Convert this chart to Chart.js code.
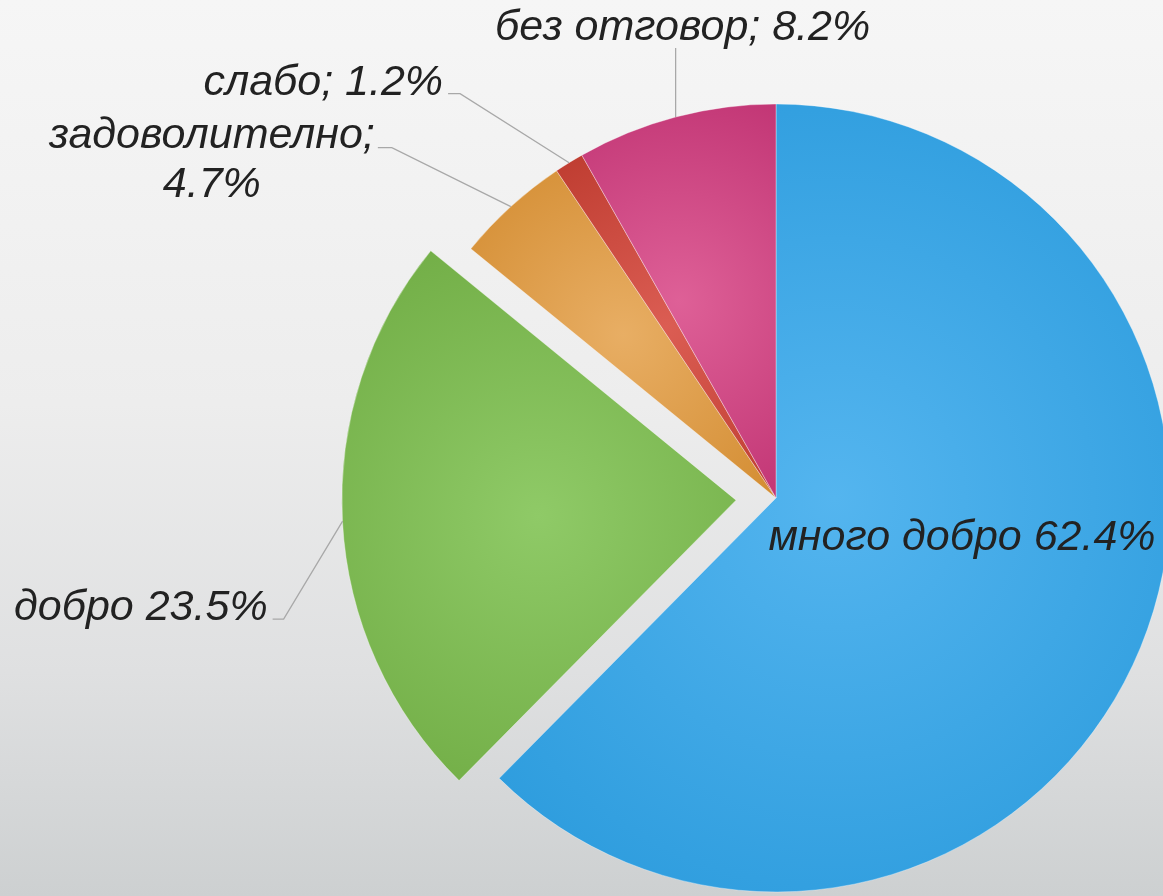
<!DOCTYPE html>
<html>
<head>
<meta charset="utf-8">
<script src="https://cdn.jsdelivr.net/npm/chart.js@4.4.1/dist/chart.umd.min.js"></script>
<style>
  html, body { margin: 0; padding: 0; }
  body {
    width: 1163px; height: 896px; overflow: hidden;
    background: linear-gradient(to bottom, #f6f6f6 0%, #ededed 45%, #dfe0e1 75%, #cdd0d1 100%);
  }
  #wrap { position: relative; width: 1163px; height: 896px; }
</style>
</head>
<body>
<div id="wrap"><canvas id="pie" width="1163" height="896"></canvas></div>
<script>
// data
const categories = ['много добро', 'добро', 'задоволително', 'слабо', 'без отговор'];
const percents = [62.4, 23.5, 4.7, 1.2, 8.2];
const separators = [' ', ' ', ';\n', '; ', '; '];

// slice colours: light centre / dark edge
const lightColors = ['#54b5ef', '#8fca67', '#e8ae64', '#db5d53', '#de6097'];
const darkColors = ['#2899db', '#6fab43', '#d38c31', '#be3c30', '#c23675'];
// pulled-out distance in px (chart.js moves an arc by offset / 4)
const explode = [0, 40, 0, 0, 0];

const RADIUS = 394;

// where each label goes, relative to the point on the slice edge at mid angle
const labelLayout = [
  { inside: true, dx: 186, dy: 52 },
  { elbow: [-59, 98], tail: -11, align: 'right', gap: 5 },
  { elbow: [-119, -59], tail: -14, align: 'center', tx: -299, lineH: 49 },
  { elbow: [-109, -69], tail: -12, align: 'right', gap: 5 },
  { elbow: [0, -69], tail: 0, align: 'center', tx: 7, ty: -77 }
];

const labelText = categories.map((c, i) => (c + separators[i] + percents[i].toFixed(1) + '%').split('\n'));

// radial shading centred on the slice's bounding box, like the office "gradient" fill
function sliceGradient(context) {
  const chart = context.chart;
  const i = context.dataIndex;
  const area = chart.chartArea;
  if (!area) return darkColors[i];
  const total = percents.reduce((a, b) => a + b, 0);
  let before = 0;
  for (let k = 0; k < i; k++) before += percents[k];
  const a0 = -Math.PI / 2 + before / total * Math.PI * 2;
  const a1 = a0 + percents[i] / total * Math.PI * 2;
  const cx = (area.left + area.right) / 2;
  const cy = (area.top + area.bottom) / 2;
  const pts = [[cx, cy]];
  const angles = [a0, a1];
  for (let q = -4; q <= 8; q++) {
    const a = q * Math.PI / 2;
    if (a > a0 && a < a1) angles.push(a);
  }
  angles.forEach(a => pts.push([cx + Math.cos(a) * RADIUS, cy + Math.sin(a) * RADIUS]));
  const xs = pts.map(p => p[0]), ys = pts.map(p => p[1]);
  const x0 = Math.min(...xs), x1 = Math.max(...xs), y0 = Math.min(...ys), y1 = Math.max(...ys);
  const gx = (x0 + x1) / 2, gy = (y0 + y1) / 2;
  const gr = Math.hypot(x1 - x0, y1 - y0) / 2;
  const g = chart.ctx.createRadialGradient(gx, gy, 0, gx, gy, gr);
  g.addColorStop(0, lightColors[i]);
  g.addColorStop(1, darkColors[i]);
  return g;
}

const labelPlugin = {
  id: 'sliceLabels',
  afterDatasetsDraw(chart) {
    const ctx = chart.ctx;
    const meta = chart.getDatasetMeta(0);
    ctx.save();
    ctx.font = 'italic 43px "Liberation Sans", Arial, sans-serif';
    ctx.fillStyle = '#222222';
    ctx.strokeStyle = '#a8a8a8';
    ctx.lineWidth = 1.3;
    meta.data.forEach((arc, i) => {
      const p = arc.getProps(['x', 'y', 'startAngle', 'endAngle', 'outerRadius']);
      const mid = (p.startAngle + p.endAngle) / 2;
      const off = explode[i];
      const cx = p.x + Math.cos(mid) * off, cy = p.y + Math.sin(mid) * off;
      const ax = cx + Math.cos(mid) * p.outerRadius, ay = cy + Math.sin(mid) * p.outerRadius;
      const L = labelLayout[i];
      const lines = labelText[i];
      if (L.inside) {
        ctx.textAlign = 'center';
        ctx.textBaseline = 'alphabetic';
        ctx.fillText(lines.join(' '), p.x + L.dx, p.y + L.dy);
        return;
      }
      const ex = ax + L.elbow[0], ey = ay + L.elbow[1];
      ctx.beginPath();
      ctx.moveTo(ax, ay);
      ctx.lineTo(ex, ey);
      if (L.tail) ctx.lineTo(ex + L.tail, ey);
      ctx.stroke();
      ctx.textBaseline = 'alphabetic';
      ctx.textAlign = L.align;
      if (L.align === 'right') {
        ctx.fillText(lines.join(''), ex + L.tail - L.gap, ey + 1);
      } else if (L.lineH) {
        lines.forEach((t, k) => ctx.fillText(t, ax + L.tx, ey + k * L.lineH));
      } else {
        ctx.fillText(lines.join(''), ax + L.tx, ay + L.ty);
      }
    });
    ctx.restore();
  }
};

new Chart(document.getElementById('pie'), {
  type: 'pie',
  data: {
    labels: categories,
    datasets: [{
      data: percents,
      backgroundColor: sliceGradient,
      borderColor: 'rgba(255,255,255,0.35)',
      borderWidth: 1,
      offset: explode.map(v => v * 4),
      clip: false
    }]
  },
  options: {
    responsive: false,
    animation: false,
    radius: RADIUS,
    layout: { padding: { left: 389, right: 0, top: 102, bottom: 2 } },
    plugins: {
      legend: { display: false },
      tooltip: { enabled: false }
    }
  },
  plugins: [labelPlugin]
});
</script>
</body>
</html>
